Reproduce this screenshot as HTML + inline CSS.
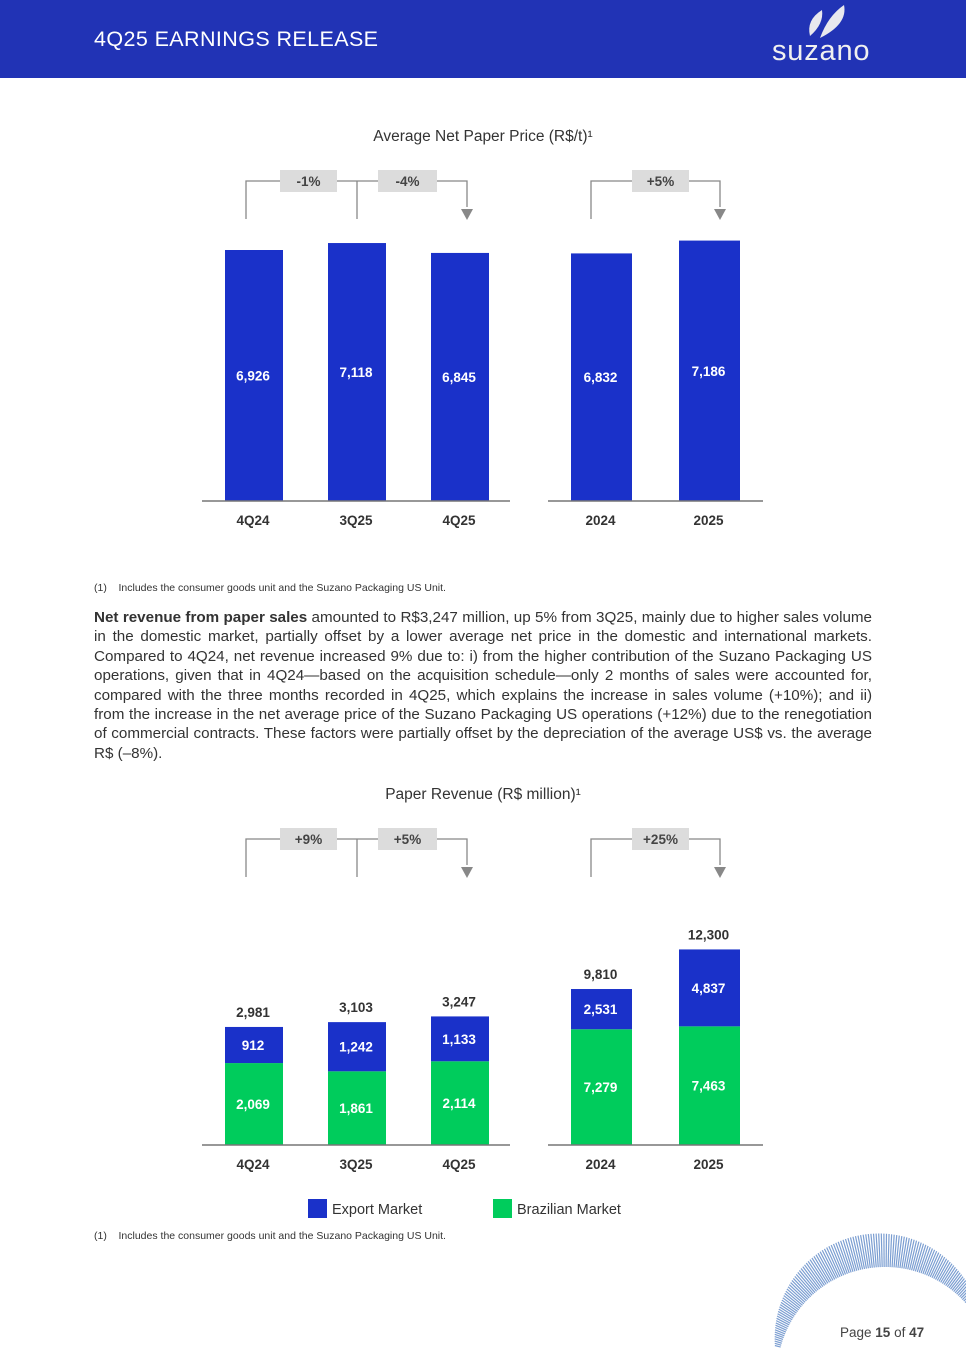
<!DOCTYPE html>
<html><head><meta charset="utf-8">
<style>
body{margin:0;width:966px;height:1365px;position:relative;background:#fff;font-family:"Liberation Sans",sans-serif;overflow:hidden}
.hdr{position:absolute;left:0;top:0;width:966px;height:78px;background:#2133b5}
.hdr .t{position:absolute;left:94px;top:27px;color:#fff;font-size:21.5px;letter-spacing:0.4px}
.logo{position:absolute;left:772px;top:35px;color:#f0f0f0;font-size:29px;letter-spacing:0.8px}
.note{position:absolute;left:94px;font-size:10.5px;color:#333}
.para{position:absolute;left:94px;top:608px;width:778px;font-size:15.2px;line-height:19.4px;color:#333;text-align:justify}
.page{position:absolute;left:840px;top:1325px;font-size:13.5px;color:#444}
svg text{font-family:"Liberation Sans",sans-serif}
</style></head><body>
<div class="hdr">
<div class="t">4Q25 EARNINGS RELEASE</div>
<svg style="position:absolute;left:802px;top:2px" width="50" height="38">
<path d="M8 34 Q4 18 20 8 Q22 22 8 34Z" fill="#e8e8ee"/><path d="M18 36 Q26 14 42 3 Q46 22 18 36Z" fill="#e8e8ee"/></svg>
<div class="logo">suzano</div>
</div>
<svg id="c" width="966" height="1365" style="position:absolute;left:0;top:0"></svg>
<div class="note" style="top:582px">(1)&nbsp;&nbsp;&nbsp;&nbsp;Includes the consumer goods unit and the Suzano Packaging US Unit.</div>
<div class="para"><b>Net revenue from paper sales</b> amounted to R$3,247 million, up 5% from 3Q25, mainly due to higher sales volume in the domestic market, partially offset by a lower average net price in the domestic and international markets. Compared to 4Q24, net revenue increased 9% due to: i) from the higher contribution of the Suzano Packaging US operations, given that in 4Q24—based on the acquisition schedule—only 2 months of sales were accounted for, compared with the three months recorded in 4Q25, which explains the increase in sales volume (+10%); and ii) from the increase in the net average price of the Suzano Packaging US operations (+12%) due to the renegotiation of commercial contracts. These factors were partially offset by the depreciation of the average US$ vs. the average R$ (–8%).</div>
<div class="note" style="top:1230px">(1)&nbsp;&nbsp;&nbsp;&nbsp;Includes the consumer goods unit and the Suzano Packaging US Unit.</div>
<div class="page">Page <b>15</b> of <b>47</b></div>
<script>
const NS="http://www.w3.org/2000/svg",svg=document.getElementById('c');
function el(t,a,txt){const e=document.createElementNS(NS,t);for(const k in a)e.setAttribute(k,a[k]);if(txt!=null)e.textContent=txt;svg.appendChild(e);return e;}
const fmt=v=>v.toLocaleString('en-US');
// decoration
for(let i=0;i<150;i++){const a=(195+i*1.05)*Math.PI/180;const cx=885,cy=1375,r=108;const len=6+28*Math.abs(Math.sin(i/150*Math.PI*1.2));
const l=el('line',{x1:cx+r*Math.cos(a),y1:cy+r*Math.sin(a),x2:cx+(r+len)*Math.cos(a),y2:cy+(r+len)*Math.sin(a),stroke:'#5b86c6','stroke-width':1.2,opacity:0.8});

}
// data
const qCats=['4Q24','3Q25','4Q25'],yCats=['2024','2025'];
const priceQ=[6926,7118,6845],priceY=[6832,7186];
const exportQ=[912,1242,1133],brazilQ=[2069,1861,2114];
const exportY=[2531,4837],brazilY=[7279,7463];
const priceVarQ=['-1%','-4%'],priceVarY=['+5%'],revVarQ=['+9%','+5%'],revVarY=['+25%'];
const BLUE='#1a31c9',GREEN='#00cc5c';
const qX=[225,328,431],yX=[571,679];
function lbl(x,y,t,c,n){const e=el('text',{x:x,y:y,'text-anchor':'middle','font-size':13.5,'font-weight':'bold',fill:c},t);}
function bar(x,y,w,h,c,n){const r=el('rect',{x:x,y:y,width:w,height:h,fill:c});}
function axis(base,x1,x2,xs,w,cats,n){el('line',{x1:x1,x2:x2,y1:base,y2:base,stroke:'#777','stroke-width':1.5});cats.forEach((c,i)=>lbl(xs[i]+w/2,base+24,c,'#333',n+'-label-'+c));}
function title(y,t,n){const e=el('text',{x:483,y:y,'text-anchor':'middle','font-size':15.5,fill:'#333'},t);}
function box(x1,x2,y,t,n){bar(x1,y-11,x2-x1,22,'#dcdcdc',n+'-box');lbl((x1+x2)/2,y+5,t,'#444',n);}
function brackets(y,vq,vy,n){const g='#888';
el('polyline',{points:`246,${y+38} 246,${y} 467,${y} 467,${y+26}`,fill:'none',stroke:g,'stroke-width':1.3});
el('line',{x1:357,x2:357,y1:y,y2:y+38,stroke:g,'stroke-width':1.3});
el('polygon',{points:`461,${y+28} 473,${y+28} 467,${y+39}`,fill:g});
box(280,337,y,vq[0],n+'-var-1');box(378,437,y,vq[1],n+'-var-2');
el('polyline',{points:`591,${y+38} 591,${y} 720,${y} 720,${y+26}`,fill:'none',stroke:g,'stroke-width':1.3});
el('polygon',{points:`714,${y+28} 726,${y+28} 720,${y+39}`,fill:g});
box(632,689,y,vy[0],n+'-var-3');}
// chart1
title(141,'Average Net Paper Price (R$/t)¹','price-chart-title');
brackets(181,priceVarQ,priceVarY,'price');
const b1=501,s1=0.03624;
priceQ.forEach((v,i)=>{const h=v*s1;bar(qX[i],b1-h,58,h,BLUE,'price-bar-'+qCats[i]);lbl(qX[i]+28,b1-h/2+5,fmt(v),'#fff','price-value-'+qCats[i]);});
priceY.forEach((v,i)=>{const h=v*s1;bar(yX[i],b1-h,61,h,BLUE,'price-bar-'+yCats[i]);lbl(yX[i]+29.5,b1-h/2+5,fmt(v),'#fff','price-value-'+yCats[i]);});
axis(b1,202,510,qX,56,qCats,'price-x');el('line',{x1:548,x2:763,y1:b1,y2:b1,stroke:'#777','stroke-width':1.5});yCats.forEach((c,i)=>lbl(yX[i]+29.5,b1+24,c,'#333','price-x-label-'+c));
// chart2
title(799,'Paper Revenue (R$ million)¹','revenue-chart-title');
brackets(839,revVarQ,revVarY,'revenue');
const b2=1145,sq=0.0396,sy=0.0159;
function stack(xs,w,ex,br,s,cats){xs.forEach((x,i)=>{const hb=br[i]*s,he=ex[i]*s;
bar(x,b2-hb,w,hb,GREEN,'brazil-bar-'+cats[i]);bar(x,b2-hb-he,w,he,BLUE,'export-bar-'+cats[i]);
lbl(x+w/2-1,b2-hb/2+5,fmt(br[i]),'#fff','brazil-value-'+cats[i]);lbl(x+w/2-1,b2-hb-he/2+5,fmt(ex[i]),'#fff','export-value-'+cats[i]);
lbl(x+w/2-1,b2-hb-he-10,fmt(ex[i]+br[i]),'#333','total-value-'+cats[i]);});}
stack(qX,58,exportQ,brazilQ,sq,qCats);stack(yX,61,exportY,brazilY,sy,yCats);
axis(b2,202,510,qX,56,qCats,'revenue-x');el('line',{x1:548,x2:763,y1:b2,y2:b2,stroke:'#777','stroke-width':1.5});yCats.forEach((c,i)=>lbl(yX[i]+29.5,b2+24,c,'#333','revenue-x-label-'+c));
// legend
bar(308,1199,19,19,BLUE,'legend-swatch-export');bar(493,1199,19,19,GREEN,'legend-swatch-brazil');
[[332,'Export Market','legend-export'],[517,'Brazilian Market','legend-brazil']].forEach(a=>{const e=el('text',{x:a[0],y:1214,'font-size':14.5,fill:'#333'},a[1]);});
</script>
</body></html>
